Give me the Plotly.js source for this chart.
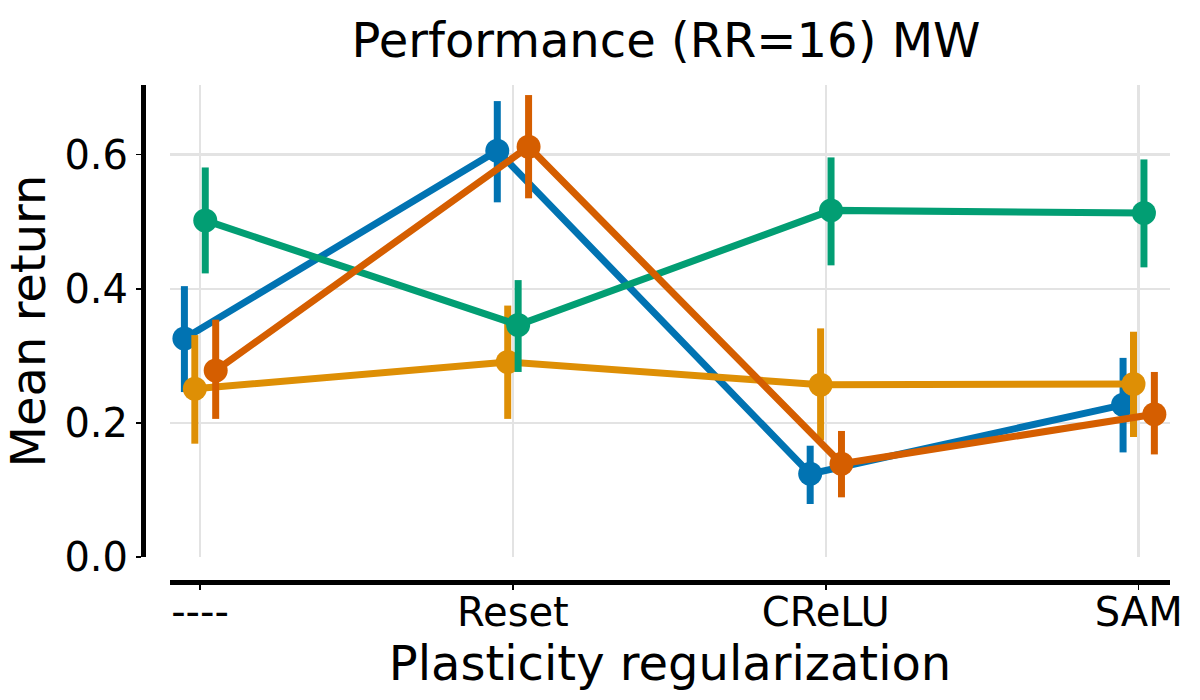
<!DOCTYPE html>
<html>
<head>
<meta charset="utf-8">
<script src="https://cdn.plot.ly/plotly-3.0.1.min.js"></script>
<style>
  html, body { margin: 0; padding: 0; background: #fff; }
  #chart { width: 1200px; height: 700px; }
</style>
</head>
<body>
<div id="chart"></div>
<script>
// pointplot: 평균 + 95% CI, hue 4종 dodge

const categories = ['----', 'Reset', 'CReLU', 'SAM'];

const blueMean = [0.326, 0.606, 0.124, 0.227];
const blueLo   = [0.246, 0.529, 0.079, 0.156];
const blueHi   = [0.404, 0.680, 0.166, 0.297];

const yellowMean = [0.251, 0.291, 0.257, 0.258];
const yellowLo   = [0.169, 0.206, 0.174, 0.179];
const yellowHi   = [0.331, 0.375, 0.341, 0.336];

const greenMean = [0.502, 0.346, 0.517, 0.513];
const greenLo   = [0.423, 0.276, 0.435, 0.432];
const greenHi   = [0.581, 0.413, 0.596, 0.593];

const redMean = [0.278, 0.612, 0.139, 0.213];
const redLo   = [0.206, 0.535, 0.089, 0.153];
const redHi   = [0.354, 0.689, 0.188, 0.276];

const COLORS = {
  blue: '#0173b2',
  yellow: '#de8f05',
  green: '#029e73',
  red: '#d55e00',
  grid: '#e3e3e3',
  text: '#000000',
};

const FONT = '"DejaVu Sans", sans-serif';
const DODGE = 0.1; // seaborn dodge 폭 (카테고리 단위)

const series = [
  { mean: blueMean, lo: blueLo, hi: blueHi, color: COLORS.blue },
  { mean: yellowMean, lo: yellowLo, hi: yellowHi, color: COLORS.yellow },
  { mean: greenMean, lo: greenLo, hi: greenHi, color: COLORS.green },
  { mean: redMean, lo: redLo, hi: redHi, color: COLORS.red },
];

const traces = series.map((s, i) => {
  const off = -DODGE / 2 + i * DODGE / (series.length - 1);
  return {
    x: categories.map((_, k) => k + off),
    y: s.mean,
    mode: 'lines+markers',
    type: 'scatter',
    line: { color: s.color, width: 7 },
    marker: { color: s.color, size: 24 },
    error_y: {
      type: 'data', symmetric: false,
      array: s.hi.map((v, k) => v - s.mean[k]),
      arrayminus: s.mean.map((v, k) => v - s.lo[k]),
      color: s.color, thickness: 7, width: 0,
    },
    showlegend: false,
    hoverinfo: 'skip',
  };
});

const layout = {
  width: 1200, height: 700,
  paper_bgcolor: '#fff', plot_bgcolor: '#fff',
  font: { family: FONT, color: COLORS.text, size: 40 },
  margin: { l: 143, r: 30, t: 85, b: 118 },
  title: {
    text: 'Performance (RR=16) MW',
    font: { size: 48, family: FONT, color: COLORS.text },
    xref: 'container', x: 0.555, xanchor: 'center',
    yref: 'container', y: 1 - 40 / 700, yanchor: 'middle',
  },
  xaxis: {
    domain: [0.0263, 1], anchor: 'free', position: 0,
    range: [-0.096, 3.1],
    tickvals: categories.map((_, k) => k), ticktext: categories,
    showgrid: true, gridcolor: COLORS.grid, gridwidth: 2.5,
    zeroline: false,
    showline: true, linecolor: '#000', linewidth: 5,
    ticks: 'outside', ticklen: 5, tickwidth: 1.5, tickcolor: '#000',
    ticklabelstandoff: -12,
    tickfont: { size: 40 },
    title: { text: 'Plasticity regularization', font: { size: 48 }, standoff: 2 },
  },
  yaxis: {
    domain: [0.0503, 1], anchor: 'free', position: 0,
    range: [0, 0.704],
    tickvals: [0, 0.2, 0.4, 0.6], tickformat: '.1f',
    showgrid: true, gridcolor: COLORS.grid, gridwidth: 2.5,
    zeroline: false,
    showline: true, linecolor: '#000', linewidth: 5,
    ticks: 'outside', ticklen: 5, tickwidth: 1.5, tickcolor: '#000',
    tickfont: { size: 40 },
    title: { text: 'Mean return', font: { size: 48 }, standoff: 8 },
  },
};

Plotly.newPlot('chart', traces, layout, { displayModeBar: false, staticPlot: true });
</script>
</body>
</html>
